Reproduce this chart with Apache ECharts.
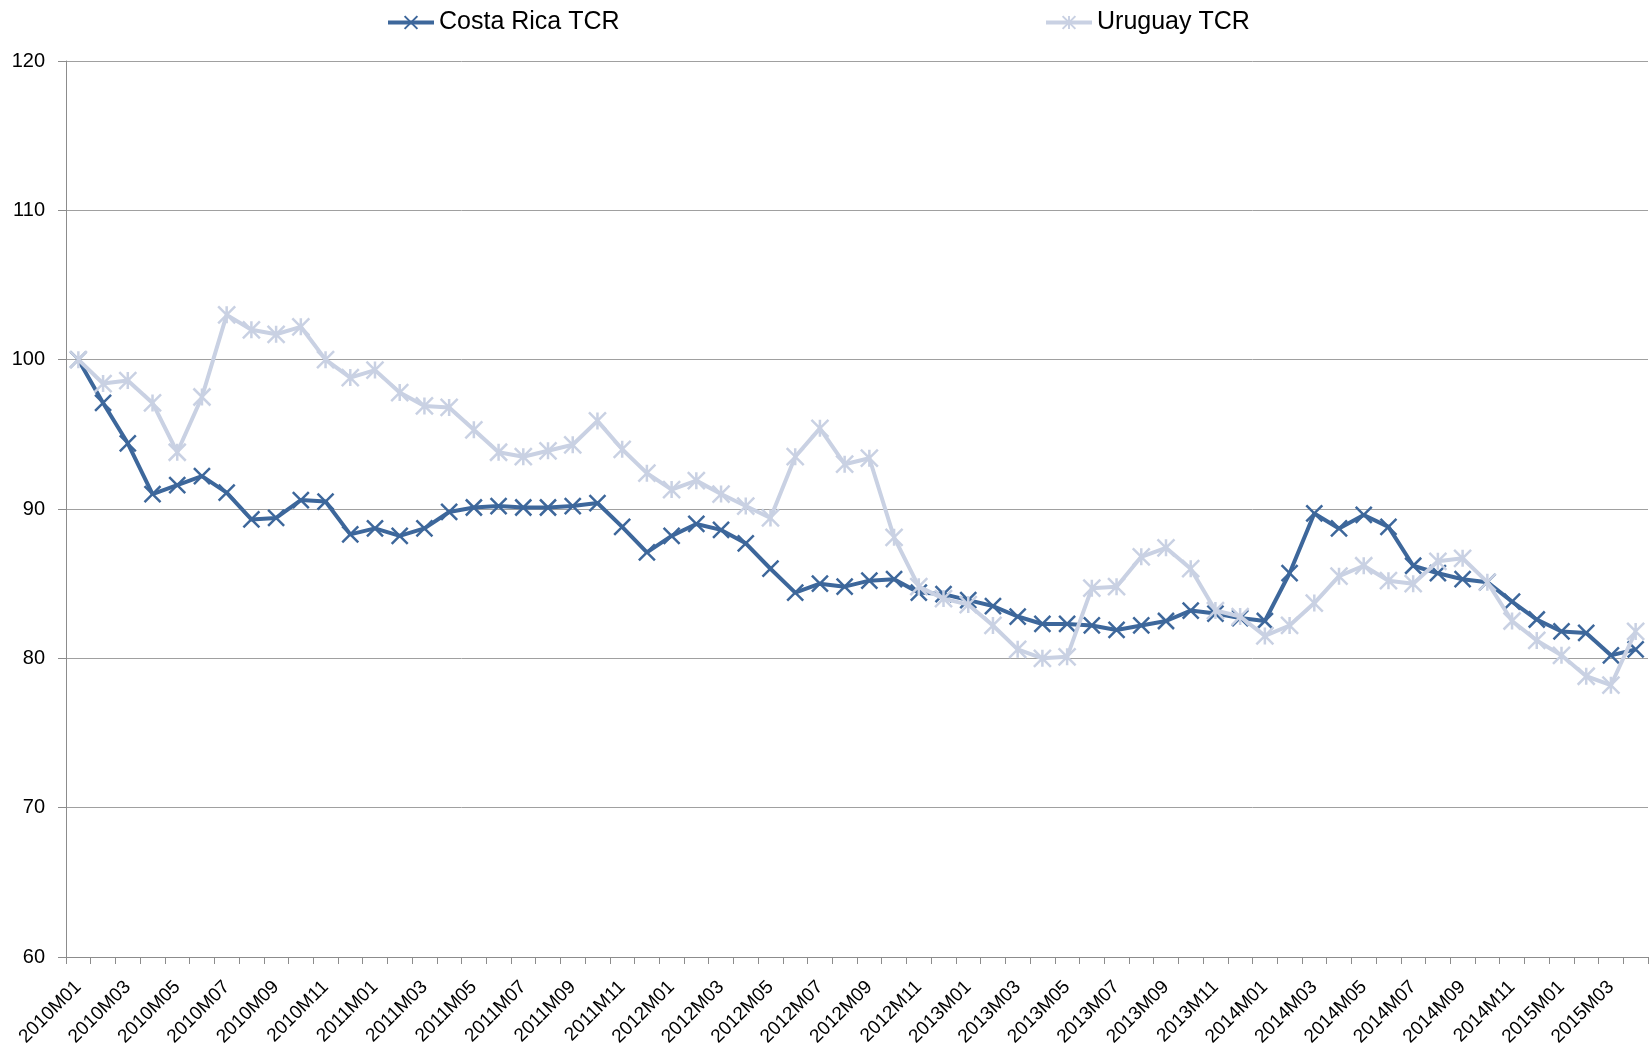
<!DOCTYPE html>
<html>
<head>
<meta charset="utf-8">
<script src="https://cdn.jsdelivr.net/npm/echarts@6/dist/echarts.min.js"></script>
<style>
html,body{margin:0;padding:0;background:#fff;}
#chart{width:1651px;height:1051px;}
</style>
</head>
<body>
<div id="chart"></div>
<script>
const categories = [
  "2010M01","2010M02","2010M03","2010M04","2010M05","2010M06","2010M07","2010M08","2010M09","2010M10","2010M11","2010M12",
  "2011M01","2011M02","2011M03","2011M04","2011M05","2011M06","2011M07","2011M08","2011M09","2011M10","2011M11","2011M12",
  "2012M01","2012M02","2012M03","2012M04","2012M05","2012M06","2012M07","2012M08","2012M09","2012M10","2012M11","2012M12",
  "2013M01","2013M02","2013M03","2013M04","2013M05","2013M06","2013M07","2013M08","2013M09","2013M10","2013M11","2013M12",
  "2014M01","2014M02","2014M03","2014M04","2014M05","2014M06","2014M07","2014M08","2014M09","2014M10","2014M11","2014M12",
  "2015M01","2015M02","2015M03","2015M04"
];
const costaRica = [
  100.0, 97.1, 94.4, 91.0, 91.6, 92.2, 91.1, 89.3, 89.4, 90.6, 90.5, 88.3,
  88.7, 88.2, 88.7, 89.8, 90.1, 90.2, 90.1, 90.1, 90.2, 90.4, 88.8, 87.1,
  88.2, 89.0, 88.6, 87.7, 86.0, 84.4, 85.0, 84.8, 85.2, 85.3, 84.4, 84.3,
  83.9, 83.5, 82.8, 82.3, 82.3, 82.2, 81.9, 82.2, 82.5, 83.2, 83.0, 82.7,
  82.5, 85.7, 89.7, 88.7, 89.6, 88.8, 86.2, 85.7, 85.3, 85.1, 83.8, 82.6,
  81.8, 81.7, 80.2, 80.6
];
const uruguay = [
  100.0, 98.4, 98.6, 97.1, 93.8, 97.5, 103.0, 102.0, 101.7, 102.2, 100.0, 98.8,
  99.3, 97.8, 96.9, 96.8, 95.3, 93.8, 93.5, 93.9, 94.3, 95.9, 94.0, 92.4,
  91.3, 91.9, 91.0, 90.2, 89.4, 93.5, 95.4, 93.0, 93.4, 88.1, 84.8, 84.0,
  83.6, 82.2, 80.6, 80.0, 80.1, 84.7, 84.8, 86.8, 87.4, 86.0, 83.2, 82.8,
  81.5, 82.2, 83.7, 85.5, 86.2, 85.2, 85.0, 86.5, 86.7, 85.1, 82.5, 81.2,
  80.2, 78.8, 78.2, 81.8
];
const seriesNames = ["Costa Rica TCR", "Uruguay TCR"];
const yTicks = { min: 60, max: 120, interval: 10 };

const FONT = "Liberation Sans";
const crossPath = "path://M0,0L10,10M10,0L0,10";
const starPath = "path://M0,0L10,10M10,0L0,10M5,0L5,10";
const cCR = "#3D679B";
const cUY = "#C9D1E3";

const legendBase = {
  top: 5, itemWidth: 46, itemHeight: 16, itemGap: 5,
  lineStyle: { width: 4 },
  textStyle: { fontFamily: FONT, fontSize: 25, color: "#000" }
};

const chart = echarts.init(document.getElementById("chart"));
chart.setOption({
  animation: false,
  backgroundColor: "#fff",
  textStyle: { fontFamily: FONT },
  legend: [
    Object.assign({ data: [seriesNames[0]], left: 381 }, legendBase),
    Object.assign({ data: [seriesNames[1]], left: 1039 }, legendBase)
  ],
  grid: { left: 66, right: 3, top: 61, bottom: 94, containLabel: false },
  xAxis: {
    type: "category",
    data: categories,
    boundaryGap: true,
    axisLine: { show: true, lineStyle: { color: "#8C8C8C", width: 1 } },
    axisTick: { show: true, interval: 0, length: 7, lineStyle: { color: "#8C8C8C" } },
    axisLabel: {
      interval: 1, rotate: 45, margin: 27, fontFamily: FONT, fontSize: 19, color: "#000"
    },
    splitLine: { show: false }
  },
  yAxis: {
    type: "value",
    min: yTicks.min, max: yTicks.max, interval: yTicks.interval,
    axisLine: { show: true, lineStyle: { color: "#8C8C8C", width: 1 } },
    axisTick: { show: true, length: 8, lineStyle: { color: "#8C8C8C" } },
    axisLabel: { margin: 21, fontFamily: FONT, fontSize: 20, color: "#000" },
    splitLine: { show: true, lineStyle: { color: "#A0A0A0", width: 1 } }
  },
  series: [
    {
      name: seriesNames[0], type: "line", data: costaRica,
      symbol: crossPath, symbolSize: 16, showSymbol: true, showAllSymbol: true,
      lineStyle: { color: cCR, width: 4 },
      itemStyle: { color: "transparent", borderColor: cCR, borderWidth: 2.5 },
      z: 2
    },
    {
      name: seriesNames[1], type: "line", data: uruguay,
      symbol: starPath, symbolSize: 17, showSymbol: true, showAllSymbol: true,
      lineStyle: { color: cUY, width: 4 },
      itemStyle: { color: "transparent", borderColor: cUY, borderWidth: 2.5 },
      z: 3
    }
  ]
});
</script>
</body>
</html>
